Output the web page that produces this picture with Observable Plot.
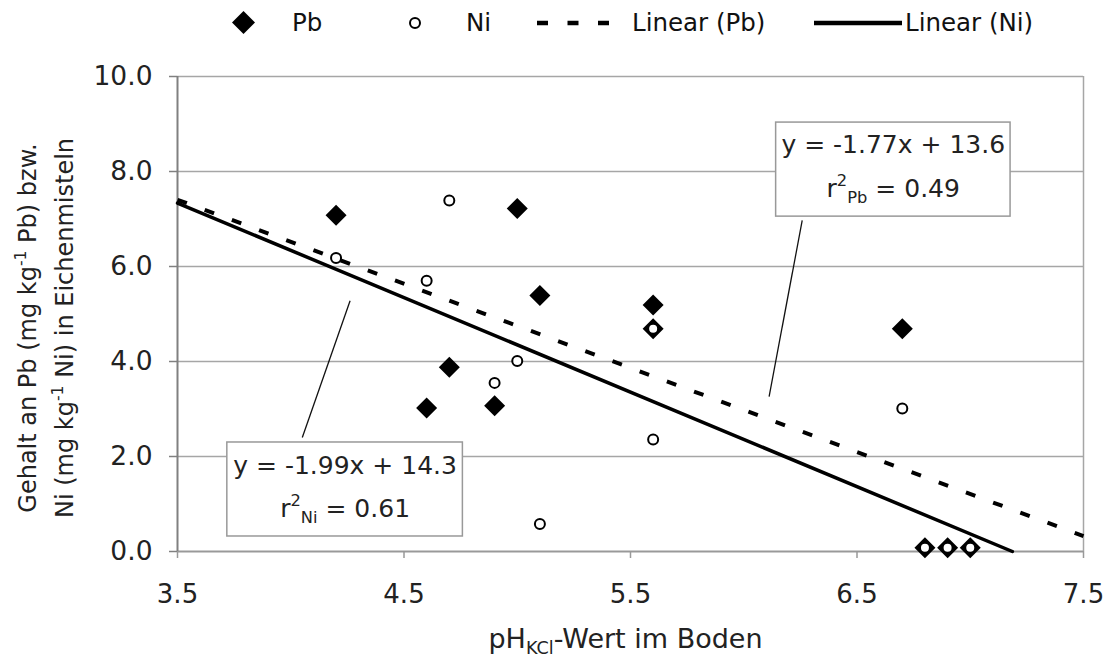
<!DOCTYPE html>
<html><head><meta charset="utf-8">
<script src="https://cdn.jsdelivr.net/npm/d3@7"></script>
<script src="https://cdn.jsdelivr.net/npm/@observablehq/plot@0.6"></script>
<style>
body{margin:0;background:#fff;font-family:"DejaVu Sans",Verdana,sans-serif;}
#chart{width:1110px;position:relative;}
#legend{position:relative;height:45px;width:1110px;font-size:24.5px;color:#111;}
#legend .item{position:absolute;top:0;height:45px;display:flex;align-items:center;white-space:nowrap;}
#legend svg{display:block;}
</style></head><body>
<div id="chart"><div id="legend"></div></div>
<script>
// ---- data ----
const pbPH = [4.2, 5.0, 5.1, 5.6, 5.6, 4.7, 4.6, 4.9, 6.7, 6.8, 6.9, 7.0];
const pbValues = [7.08, 7.22, 5.39, 5.19, 4.69, 3.88, 3.02, 3.07, 4.69, 0.08, 0.08, 0.08];
const niPH = [4.2, 4.7, 4.6, 5.0, 4.9, 5.6, 5.6, 5.1, 6.7, 6.8, 6.9, 7.0];
const niValues = [6.18, 7.39, 5.70, 4.01, 3.55, 4.69, 2.36, 0.58, 3.01, 0.08, 0.08, 0.08];

const trendNames = ["Pb", "Ni"];
const trendSlopes = [-1.77, -1.99];
const trendIntercepts = [13.6, 14.3];
const trendR2 = [0.49, 0.61];

const xDomain = [3.5, 7.5];
const yDomain = [0, 10];
const xTicks = [3.5, 4.5, 5.5, 6.5, 7.5];
const yTicks = [0, 2, 4, 6, 8, 10];

// annotation boxes (data units): Pb, Ni
const annBoxX1 = [6.143, 3.72];
const annBoxX2 = [7.178, 4.76];
const annBoxY1 = [7.05, 0.316];
const annBoxY2 = [9.03, 2.295];
const annTextX = [6.66, 4.24];
const annLine1Y = [8.55, 1.81];
const annLine2Y = [7.64, 0.905];
const leaderX1 = [6.258, 4.262];
const leaderY1 = [6.97, 5.28];
const leaderX2 = [6.112, 4.051];
const leaderY2 = [3.26, 2.40];

const legendLabels = ["Pb", "Ni", "Linear (Pb)", "Linear (Ni)"];
const xTitle = "pH_{KCl}-Wert im Boden";
const yTitle1 = "Gehalt an Pb (mg kg^{-1} Pb) bzw.";
const yTitle2 = "Ni (mg kg^{-1} Ni) in Eichenmisteln";

// ---- derived tables ----
const pbData = pbPH.map((x, i) => ({x, y: pbValues[i]}));
const niData = niPH.map((x, i) => ({x, y: niValues[i]}));
const trend = trendNames.map((name, i) => {
  const m = trendSlopes[i], b = trendIntercepts[i];
  const xEnd = Math.min(xDomain[1], -b / m);
  return [{name, x: xDomain[0], y: m * xDomain[0] + b}, {name, x: xEnd, y: m * xEnd + b}];
});
const fmt = d3.format(".2f");
const ann = trendNames.map((name, i) => ({
  name,
  x1: annBoxX1[i], x2: annBoxX2[i], y1: annBoxY1[i], y2: annBoxY2[i],
  tx: annTextX[i], ty1: annLine1Y[i], ty2: annLine2Y[i],
  l1: `y = ${trendSlopes[i]}x + ${trendIntercepts[i]}`,
  l2: `r^{2}_{${name}} = ${fmt(trendR2[i])}`,
  lx1: leaderX1[i], ly1: leaderY1[i], lx2: leaderX2[i], ly2: leaderY2[i]
}));

const diamond = {
  draw(ctx, size) {
    const r = Math.sqrt(size / Math.PI);
    ctx.moveTo(0, -r); ctx.lineTo(r, 0); ctx.lineTo(0, r); ctx.lineTo(-r, 0); ctx.closePath();
  }
};

const FONT = "DejaVu Sans, Verdana, sans-serif";
const plot = Plot.plot({
  width: 1110,
  height: 614,
  marginLeft: 177,
  marginRight: 27,
  marginTop: 31,
  marginBottom: 108,
  style: {fontFamily: FONT, fontSize: "25px", color: "#222", background: "white"},
  x: {domain: xDomain, label: null},
  y: {domain: yDomain, label: null},
  marks: [
    Plot.gridY(yTicks.filter(v => v > yDomain[0]), {stroke: "#a6a6a6", strokeOpacity: 1, strokeWidth: 1.5}),
    Plot.ruleX([xDomain[1]], {stroke: "#a6a6a6", strokeWidth: 1.5}),
    Plot.ruleY([yDomain[0]], {stroke: "#999", strokeWidth: 2}),
    Plot.ruleX([xDomain[0]], {stroke: "#808080", strokeWidth: 2}),
    Plot.line(trend[0], {x: "x", y: "y", stroke: "#000", strokeWidth: 4, strokeDasharray: "10,19", strokeLinecap: "butt"}),
    Plot.line(trend[1], {x: "x", y: "y", stroke: "#000", strokeWidth: 3.5}),
    Plot.link(ann, {x1: "lx1", y1: "ly1", x2: "lx2", y2: "ly2", stroke: "#111", strokeWidth: 1.3}),
    Plot.rect(ann, {x1: "x1", x2: "x2", y1: "y1", y2: "y2", fill: "white", stroke: "#999", strokeWidth: 1.5}),
    Plot.text(ann, {x: "tx", y: "ty1", text: "l1", fontSize: 25, fill: "#222"}),
    Plot.text(ann, {x: "tx", y: "ty2", text: "l2", fontSize: 25, fill: "#222"}),
    Plot.dot(pbData, {x: "x", y: "y", symbol: diamond, r: 10.5, fill: "#000", stroke: "none"}),
    Plot.dot(niData, {x: "x", y: "y", symbol: "circle", r: 5, fill: "white", stroke: "#000", strokeWidth: 2}),
    Plot.axisX(xTicks, {anchor: "bottom", tickSize: 7, tickPadding: 26, tickFormat: d3.format(".1f"), fontSize: 26, label: null, color: "#222", stroke: "#999", strokeWidth: 1.5}),
    Plot.axisY(yTicks, {anchor: "left", tickSize: 8, tickPadding: 17, tickFormat: d3.format(".1f"), fontSize: 26.5, label: null, color: "#222", stroke: "#808080", strokeWidth: 1.5}),
    Plot.text([xTitle], {frameAnchor: "bottom", text: d => d, dx: -5, dy: 96, fontSize: 27, fill: "#222"}),
    Plot.text([yTitle1], {frameAnchor: "left", textAnchor: "middle", text: d => d, rotate: -90, dx: -149, dy: 14, fontSize: 24, fill: "#222"}),
    Plot.text([yTitle2], {frameAnchor: "left", textAnchor: "middle", text: d => d, rotate: -90, dx: -112, dy: 14, fontSize: 24, fill: "#222"})
  ]
});
document.getElementById("chart").appendChild(plot);

// rich text: ^{sup} and _{sub}
function richify(root) {
  const ns = "http://www.w3.org/2000/svg";
  root.querySelectorAll("text").forEach(t => {
    const s = t.textContent;
    if (!/[\^_]\{/.test(s) || t.querySelector("tspan")) return;
    const fs = parseFloat(getComputedStyle(t).fontSize) || 24;
    t.textContent = "";
    let off = 0, last = 0, m;
    const add = (txt, shift, small) => {
      const ts = document.createElementNS(ns, "tspan");
      ts.textContent = txt;
      const d = shift - off;
      if (d) ts.setAttribute("dy", d.toFixed(2));
      if (small) ts.setAttribute("font-size", (fs * 0.65).toFixed(1));
      t.appendChild(ts);
      off = shift;
    };
    const re = /([\^_])\{([^}]*)\}/g;
    while ((m = re.exec(s))) {
      if (m.index > last) add(s.slice(last, m.index), 0, false);
      add(m[2], m[1] === "^" ? -0.42 * fs : 0.25 * fs, true);
      last = re.lastIndex;
    }
    if (last < s.length) add(s.slice(last), 0, false);
  });
}
richify(plot);

// legend
const legend = document.getElementById("legend");
function item(left, html) {
  const d = document.createElement("div");
  d.className = "item"; d.style.left = left + "px"; d.innerHTML = html; legend.appendChild(d);
}
item(232, `<svg width="23" height="23"><path d="M11.5,0L23,11.5L11.5,23L0,11.5Z" fill="#000"/></svg>`);
item(292, `<span>${legendLabels[0]}</span>`);
item(408, `<svg width="14" height="14"><circle cx="7" cy="7" r="5" fill="#fff" stroke="#000" stroke-width="2"/></svg>`);
item(466, `<span>${legendLabels[1]}</span>`);
item(537, `<svg width="74" height="8"><line x1="0" x2="74" y1="4" y2="4" stroke="#000" stroke-width="4.5" stroke-dasharray="11,19.5"/></svg>`);
item(632, `<span>${legendLabels[2]}</span>`);
item(814, `<svg width="88" height="8"><line x1="0" x2="88" y1="4" y2="4" stroke="#000" stroke-width="4.5"/></svg>`);
item(905, `<span>${legendLabels[3]}</span>`);
</script>
</body></html>
